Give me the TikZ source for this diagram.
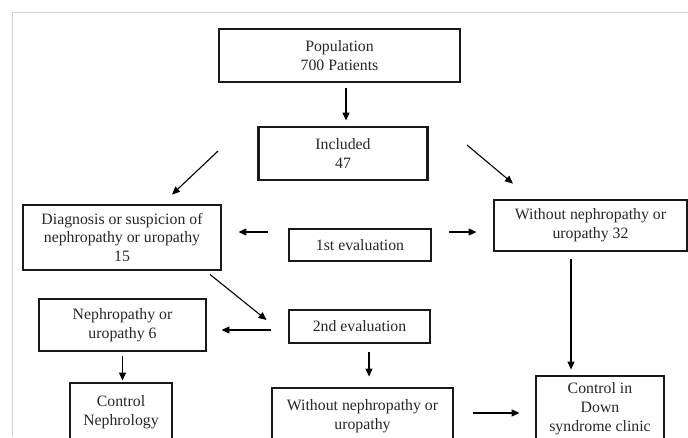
\documentclass[tikz,border=0pt]{standalone}
\usepackage{fontspec}
\setmainfont{Liberation Serif}
\usepackage{tikz}
\usetikzlibrary{arrows.meta,positioning}
\tikzset{
  flowbox/.style={ draw=black!90, line width=2.9pt, align=center, inner sep=0pt,
    text=black!85, font=\fontsize{15.8}{18.8}\selectfont }
}
\tikzset{
  arr/.style={ line width=1.1pt, -{Triangle[length=8pt,width=7pt]} }
}
\tikzset{
  frameline/.style={ draw=black!18, line width=1pt }
}

\begin{document}
\begin{tikzpicture}[x=1pt, y=-1pt]
      \useasboundingbox (0, 0) rectangle (688, 437);
      \clip (0, 0) rectangle (688, 437);
      \draw[frameline] (688, 12) -- (12, 12) -- (12, 437);
      \node[flowbox, minimum width=241pt, minimum height=53pt] (pop) at (339.5, 55.5) {Population\\700 Patients};
      \node[flowbox, minimum width=169pt, minimum height=53pt] (incl) at (343, 153.5) {Included\\47};
      \node[flowbox, minimum width=198pt, minimum height=65pt] (diag) at (122, 237.5) {Diagnosis or suspicion of\\nephropathy or uropathy\\15};
      \node[flowbox, minimum width=142pt, minimum height=32pt] (evalA) at (360, 245) {1st evaluation};
      \node[flowbox, minimum width=193pt, minimum height=51pt] (noneA) at (590.5, 225.5) {Without nephropathy or\\uropathy 32};
      \node[flowbox, minimum width=167pt, minimum height=52pt] (neph) at (122.5, 325) {Nephropathy or\\uropathy 6};
      \node[flowbox, minimum width=141pt, minimum height=33pt] (evalB) at (359.5, 326.5) {2nd evaluation};
      \node[flowbox, minimum width=102pt, minimum height=58pt] (ctrlneph) at (121, 412) {Control\\Nephrology};
      \node[flowbox, minimum width=181pt, minimum height=56pt] (noneB) at (362.5, 416) {Without nephropathy or\\uropathy};
      \node[flowbox, minimum width=128pt, minimum height=66pt] (ctrldown) at (600, 409) {Control in\\Down\\syndrome clinic};
      \draw[arr, shorten <=5pt, shorten >=5pt] ([xshift=6.5pt]pop.south) -- ([xshift=6.5pt]pop.south |- incl.north);
      \draw[arr] ([xshift=-39pt, yshift=2.5pt]incl.west) -- ([xshift=50pt, yshift=9pt]diag.north);
      \draw[arr] ([xshift=38pt, yshift=8.5pt]incl.east) -- ([xshift=-77.5pt, yshift=15pt]noneA.north);
      \draw[arr, shorten <=20pt, shorten >=16pt] ([yshift=13pt]evalA.west) -- ([yshift=13pt]evalA.west -| diag.east);
      \draw[arr, shorten <=17pt, shorten >=16pt] ([yshift=13pt]evalA.east) -- ([yshift=13pt]evalA.east -| noneA.west);
      \draw[arr] ([xshift=88pt, yshift=-3pt]diag.south) -- ([xshift=-21pt, yshift=6.5pt]evalB.west);
      \draw[arr, shorten <=17pt, shorten >=14pt] ([yshift=-3.5pt]evalB.west) -- ([yshift=-3.5pt]evalB.west -| neph.east);
      \draw[arr, shorten <=4pt, shorten >=1pt] (neph.south) -- (neph.south |- ctrlneph.north);
      \draw[arr, shorten <=8pt, shorten >=10pt] ([xshift=9.5pt]evalB.south) -- ([xshift=9.5pt]evalB.south |- noneB.north);
      \draw[arr, shorten <=7pt, shorten >=5pt] ([xshift=-19.5pt]noneA.south) -- ([xshift=-19.5pt]noneA.south |- ctrldown.north);
      \draw[arr, shorten <=19pt, shorten >=15pt] ([yshift=3pt]noneB.east) -- ([yshift=3pt]noneB.east -| ctrldown.west);
    \end{tikzpicture}
\end{document}
